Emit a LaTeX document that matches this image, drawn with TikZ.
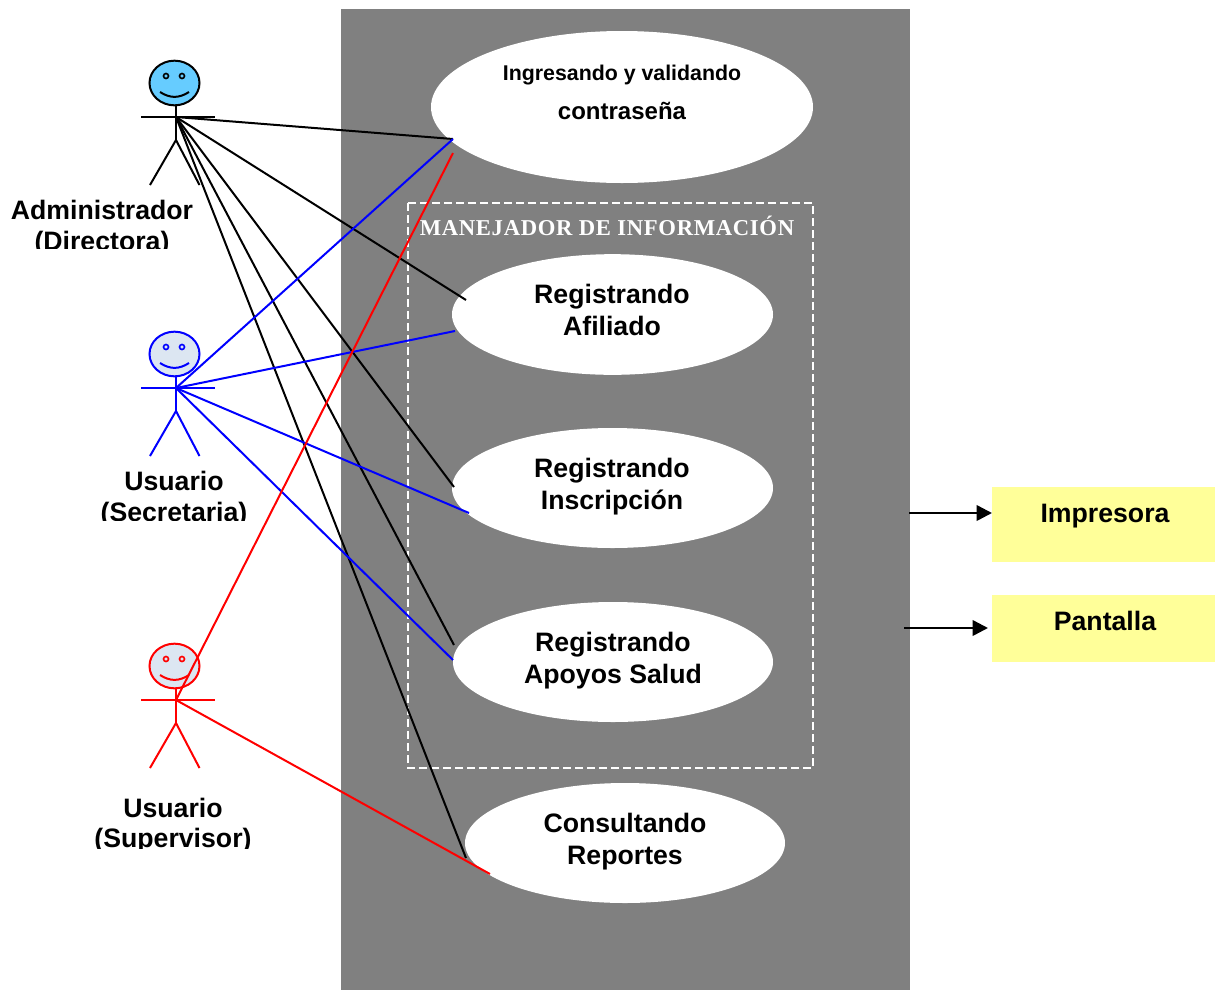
\documentclass[tikz,border=0pt]{standalone}
\usepackage{fontspec}
\setmainfont{Liberation Sans}
\newfontfamily\serifbold[LetterSpace=3]{Liberation Serif}
\usetikzlibrary{shapes.geometric,arrows.meta}
\definecolor{panelgray}{HTML}{808080}
\definecolor{boxyellow}{HTML}{FFFF99}
\definecolor{headblue}{HTML}{66CCFF}
\definecolor{headpale}{HTML}{DCE6F2}
\tikzset{
  usecase/.style={ellipse,fill=white,draw=none,inner sep=0pt},
  uctext/.style={align=center,inner sep=0pt,font=\bfseries\fontsize{20}{24}\selectfont},
  actortext/.style={align=center,inner sep=0pt,font=\bfseries\fontsize{20}{23.5}\selectfont},
  boxtext/.style={inner sep=0pt,font=\bfseries\fontsize{20}{24}\selectfont},
  outbox/.style={fill=boxyellow,draw=none,inner sep=0pt,anchor=north west},
  conn/.style={line width=1.5pt},
  outarrow/.style={line width=1.9pt,-{Triangle[length=11.5pt,width=11.5pt]}}
}
\newcommand{\myactor}[4]{%
  \begin{scope}[shift={(0,#2)},draw=#3,line width=1.5pt]
    \node[ellipse,draw=#3,fill=#4,inner sep=0pt,minimum width=37.5pt,minimum height=33.5pt] (#1head) at (174.5,-34) {};
    \draw (176,-11) -- (176,23);
    \draw (141,0) -- (215,0);
    \draw (150,68) -- (176,23) -- (199.5,68);
    \draw[line width=1.2pt] (166,-41) circle (2.5);
    \draw[line width=1.2pt] (182,-41) circle (2.5);
    \draw (160,-25) .. controls (170,-18.5) and (179,-18.5) .. (189,-25);
    \coordinate (#1) at (176,0);
  \end{scope}}
\begin{document}
\begin{tikzpicture}[x=0.75pt,y=-0.75pt]
\useasboundingbox (0,0) rectangle (1215,990);
\fill[white] (0,0) rectangle (1215,990);
\fill[panelgray] (341,9) rectangle (910,990);

\node[usecase,minimum width=286.5pt,minimum height=114pt] (uc1) at (622,107) {};
\node[usecase,minimum width=240.75pt,minimum height=90.5pt] (uc2) at (612.5,314.5) {};
\node[usecase,minimum width=240.75pt,minimum height=90pt] (uc3) at (612.5,488) {};
\node[usecase,minimum width=240pt,minimum height=90pt] (uc4) at (613,662) {};
\node[usecase,minimum width=240pt,minimum height=90pt] (uc5) at (625,843) {};

\node[inner sep=0pt,font=\bfseries\fontsize{16}{19}\selectfont] (t1a) at (622,75) {Ingresando y validando};
\node[inner sep=0pt,font=\bfseries\fontsize{18}{21}\selectfont] (t1b) at (622,111) {contraseña};
\node[uctext] (t2) at (612,310) {Registrando\\Afiliado};
\node[uctext] (t3) at (612,487) {Registrando\\Inscripción};
\node[uctext] (t4) at (613,661) {Registrando\\Apoyos Salud};
\node[uctext] (t5) at (625,842) {Consultando\\Reportes};

\draw[white,line width=1.5pt,dash pattern=on 6pt off 3pt] (408,203) rectangle (813,768);
\node[inner sep=0pt,text=white,font=\serifbold\bfseries\fontsize{17}{19}\selectfont] (mtitle) at (607,226) {MANEJADOR DE INFORMACIÓN};

\begin{scope}
  \clip (0,190) rectangle (215,248.5);
  \node[actortext] (la) at (102,228) {Administrador\\(Directora)};
\end{scope}
\begin{scope}
  \clip (90,460) rectangle (260,520.5);
  \node[actortext] (ls) at (174,499) {Usuario\\(Secretaria)};
\end{scope}
\begin{scope}
  \clip (90,790) rectangle (260,848);
  \node[actortext,font=\bfseries\fontsize{20}{22.5}\selectfont] (lv) at (173,825.5) {Usuario\\(Supervisor)};
\end{scope}

\myactor{adm}{117}{black}{headblue}
\myactor{sec}{388}{blue}{headpale}
\myactor{sup}{700}{red}{headpale}

\coordinate (p1) at (453,139);
\coordinate (p1r) at (453,153);
\coordinate (p2k) at (466,300);
\coordinate (p2b) at (455,331);
\coordinate (p3k) at (454,487);
\coordinate (p3b) at (469,513);
\coordinate (p4k) at (454,645);
\coordinate (p4b) at (453,660);
\coordinate (p5k) at (466,858);
\coordinate (p5r) at (490,874);

\draw[conn,black] (adm) -- (p1);
\draw[conn,black] (adm) -- (p2k);
\draw[conn,black] (adm) -- (p3k);
\draw[conn,black] (adm) -- (p4k);
\draw[conn,black] (adm) -- (p5k);
\draw[conn,blue] (sec) -- (p1);
\draw[conn,blue] (sec) -- (p2b);
\draw[conn,blue] (sec) -- (p3b);
\draw[conn,blue] (sec) -- (p4b);
\draw[conn,red] (sup) -- (p1r);
\draw[conn,red] (sup) -- (p5r);

\node[outbox,minimum width=167.25pt,minimum height=56.25pt] (imp) at (992,487) {};
\node[outbox,minimum width=167.25pt,minimum height=50.25pt] (pan) at (992,595) {};
\node[boxtext] (timp) at (1105,516) {Impresora};
\node[boxtext] (tpan) at (1105,621) {Pantalla};
\coordinate (a1) at (909,513);
\coordinate (a2) at (904,628);
\coordinate (a2e) at (988,628);
\draw[outarrow] (a1) -- (a1 -| imp.west);
\draw[outarrow] (a2) -- (a2e);
\end{tikzpicture}
\end{document}
